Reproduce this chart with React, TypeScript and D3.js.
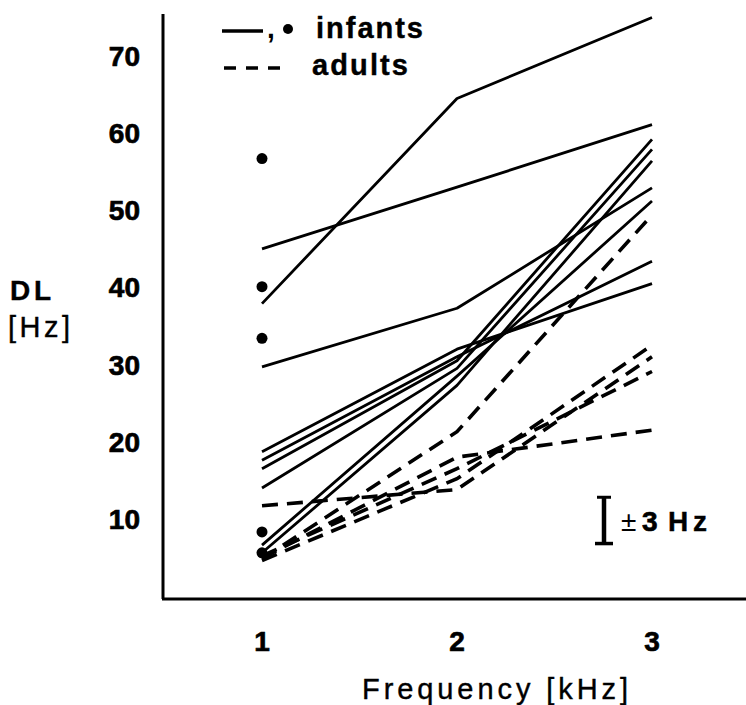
import React from "react";
import * as d3 from "d3";

const freqs = [1, 2, 3];
const yTicks = [10, 20, 30, 40, 50, 60, 70];
const xTicks = [1, 2, 3];

const infant1 = [37.9, 64.5, 75.0];
const infant2 = [45.0, 53.0, 61.1];
const infant3 = [29.7, 37.3, 52.9];
const infant4 = [18.7, 32.0, 40.5];
const infant5 = [17.6, 31.0, 43.4];
const infant6 = [16.5, 30.5, 59.2];
const infant7 = [14.0, 29.5, 57.9];
const infant8 = [6.6, 28.5, 51.2];
const infant9 = [5.6, 27.3, 56.4];
const infantSeries = [infant1, infant2, infant3, infant4, infant5, infant6, infant7, infant8, infant9];

const infantDots = [56.7, 40.1, 33.4, 8.3, 5.6];

const adult1 = [4.8, 21.3, 49.4];
const adult2 = [11.7, 13.8, 31.0];
const adult3 = [4.6, 15.2, 32.5];
const adult4 = [5.2, 16.5, 29.1];
const adult5 = [4.9, 18.0, 21.5];
const adultSeries = [adult1, adult2, adult3, adult4, adult5];

const errMid = 9.8;
const errHalf = 3;

export default function App() {
  const x = d3.scaleLinear().domain([1, 3]).range([262, 652]);
  const y = d3.scaleLinear().domain([0, 70]).range([596, 56]);
  const line = d3
    .line<[number, number]>()
    .x((d) => x(d[0]))
    .y((d) => y(d[1]));
  const pts = (vals: number[]) => vals.map((v, i) => [freqs[i], v] as [number, number]);
  const font = "'Liberation Sans', Arial, sans-serif";
  const errX = 604;
  const heavy = { stroke: "#000", strokeWidth: 0.7 };
  const medium = { stroke: "#000", strokeWidth: 0.4 };

  return (
    <svg
      width={746}
      height={705}
      style={{ position: "absolute", left: 0, top: 0, background: "#fff" }}
      fontFamily={font}
    >
      <rect width={746} height={705} fill="#fff" />
      {/* axes */}
      <line x1={163} y1={14} x2={163} y2={599} stroke="#000" strokeWidth={3} />
      <line x1={162} y1={599} x2={746} y2={599} stroke="#000" strokeWidth={3} />

      {/* y tick labels */}
      {yTicks.map((t) => (
        <text key={t} x={140} y={y(t) + 10} textAnchor="end" fontSize={28} fontWeight="bold" {...heavy}>
          {t}
        </text>
      ))}
      {/* x tick labels */}
      {xTicks.map((t) => (
        <text key={t} x={x(t)} y={651} textAnchor="middle" fontSize={28} fontWeight="bold" {...heavy}>
          {t}
        </text>
      ))}

      {/* axis titles */}
      <text x={10} y={300} fontSize={28} fontWeight="bold" textLength={41} lengthAdjust="spacing" {...medium}>
        DL
      </text>
      <text x={8} y={337} fontSize={29} textLength={62} lengthAdjust="spacing" {...medium}>
        [Hz]
      </text>
      <text x={362} y={699} fontSize={29} textLength={266} lengthAdjust="spacing" {...medium}>
        Frequency [kHz]
      </text>

      {/* legend */}
      <line x1={222} y1={31} x2={263} y2={31} stroke="#000" strokeWidth={3.5} />
      <text x={267} y={38} fontSize={28} fontWeight="bold">,</text>
      <circle cx={288} cy={29} r={5} fill="#000" />
      <text x={316} y={38} fontSize={29} fontWeight="bold" textLength={107} lengthAdjust="spacing" {...medium}>
        infants
      </text>
      <line
        x1={224}
        y1={68}
        x2={283}
        y2={68}
        stroke="#000"
        strokeWidth={3.5}
        strokeDasharray="12 10"
      />
      <text x={312} y={75} fontSize={29} fontWeight="bold" textLength={96} lengthAdjust="spacing" {...medium}>
        adults
      </text>

      {/* infant lines */}
      {infantSeries.map((s, i) => (
        <path key={"i" + i} d={line(pts(s)) || ""} fill="none" stroke="#000" strokeWidth={2.8} strokeLinejoin="round" />
      ))}
      {/* adult dashed lines */}
      {adultSeries.map((s, i) => (
        <path
          key={"a" + i}
          d={line(pts(s)) || ""}
          fill="none"
          stroke="#000"
          strokeWidth={3.6}
          strokeDasharray="16 9"
        />
      ))}
      {/* infant dots */}
      {infantDots.map((v, i) => (
        <circle key={"d" + i} cx={x(1)} cy={y(v)} r={5.5} fill="#000" />
      ))}

      {/* error bar annotation */}
      <line x1={errX} y1={y(errMid + errHalf)} x2={errX} y2={y(errMid - errHalf)} stroke="#000" strokeWidth={4.5} />
      <line x1={errX - 7} y1={y(errMid + errHalf)} x2={errX + 7} y2={y(errMid + errHalf)} stroke="#000" strokeWidth={3} />
      <line x1={errX - 9} y1={y(errMid - errHalf)} x2={errX + 9} y2={y(errMid - errHalf)} stroke="#000" strokeWidth={3.5} />
      <text x={621} y={531} fontSize={28}>±</text>
      <text x={642} y={531} fontSize={28} fontWeight="bold" {...heavy}>3</text>
      <text x={668} y={531} fontSize={28} fontWeight="bold" textLength={39} lengthAdjust="spacing" {...medium}>Hz</text>
    </svg>
  );
}
